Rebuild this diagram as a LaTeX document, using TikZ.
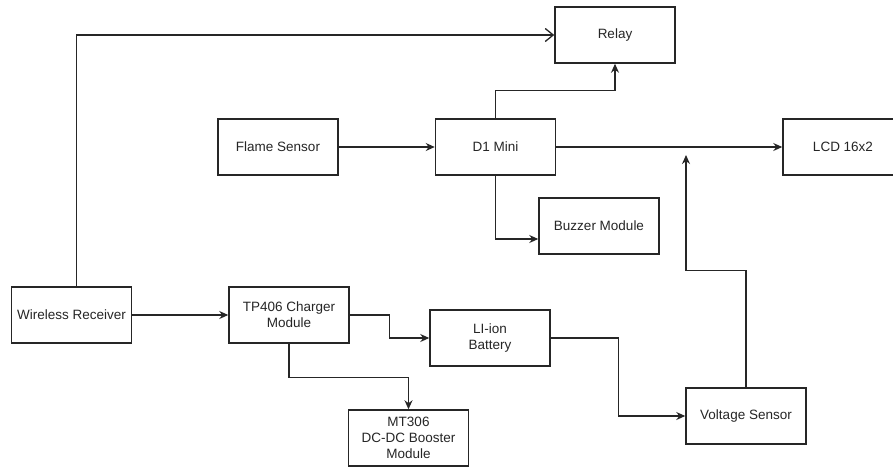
\documentclass[tikz,border=0pt]{standalone}
\usepackage{fontspec}
\setmainfont{Liberation Sans}
\usetikzlibrary{arrows.meta}
\begin{document}
\begin{tikzpicture}[x=1pt,y=1pt,
  blk/.style={draw=black!85,line width=1.5pt,rectangle,minimum width=120pt,minimum height=56pt,
    inner sep=2pt,align=center,font=\fontsize{13.5}{16}\selectfont,text=black!85},
  conn/.style={draw=black!85,line width=1.3pt,-{Stealth[length=9pt,width=8pt]}},
  openconn/.style={draw=black!85,line width=1.3pt,-{Straight Barb[length=8pt,width=13pt]}}]
\useasboundingbox (0,0) rectangle (893,-467);
\clip (0,0) rectangle (893,-467);
\fill[white] (0,0) rectangle (893,-467);
\node[blk] (relay) at (615,-35) {Relay};
\node[blk] (fs) at (278,-147) {Flame Sensor};
\node[blk] (d1) at (495.5,-147) {D1 Mini};
\node[blk] (lcd) at (843,-147) {LCD 16x2};
\node[blk] (bz) at (599,-226) {Buzzer Module};
\node[blk] (wr) at (71.5,-315) {Wireless Receiver};
\node[blk] (tp) at (289,-315) {TP406 Charger\\Module};
\node[blk] (bat) at (490,-338) {LI-ion\\Battery};
\node[blk] (vs) at (746,-416) {Voltage Sensor};
\node[blk] (mt) at (408.5,-438) {MT306\\DC-DC Booster\\Module};
\coordinate (vtip) at (686,-155);
\draw[openconn] ([xshift=5pt]wr.north) |- (relay.west);
\draw[conn] (wr.east) -- (tp.west);
\draw[conn] (tp.east) -- ++(40,0) |- (bat.west);
\draw[conn] (tp.south) -- ++(0,-34) -| (mt.north);
\draw[conn] (bat.east) -- ++(68,0) |- (vs.west);
\draw[conn] (vs.north) -- ++(0,117) -| (vtip);
\draw[conn] (fs.east) -- (d1.west);
\draw[conn] (d1.east) -- (lcd.west);
\draw[conn] (d1.north) -- ++(0,28) -| (relay.south);
\draw[conn] (d1.south) |- ([yshift=-13pt]bz.west);
\end{tikzpicture}
\end{document}
